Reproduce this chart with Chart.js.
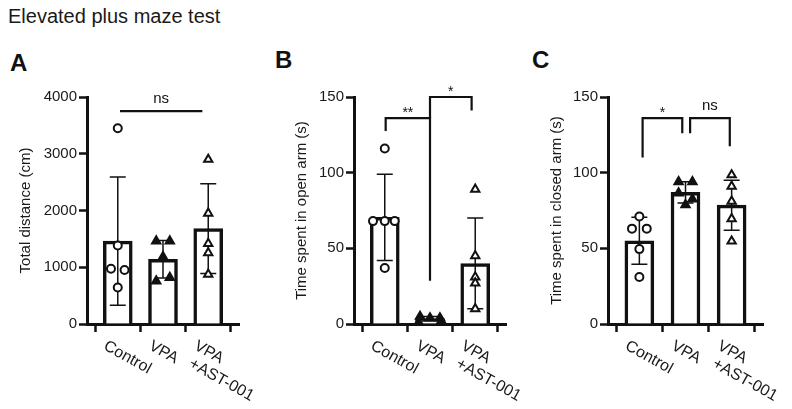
<!DOCTYPE html>
<html><head><meta charset="utf-8">
<script src="https://cdn.jsdelivr.net/npm/chart.js@4.4.1/dist/chart.umd.min.js"></script>
<style>
html,body{margin:0;padding:0;background:#fff;width:792px;height:409px;overflow:hidden;font-family:'Liberation Sans',Arial,sans-serif;}
#title{position:absolute;left:8px;top:6px;font-size:20px;line-height:20px;color:#1a1a1a;white-space:nowrap;}
.lab{position:absolute;font-weight:bold;font-size:24px;line-height:24px;color:#111;}
canvas{position:absolute;left:0;top:0;}
</style></head><body>
<div id="title">Elevated plus maze test</div>
<div class="lab" style="left:10px;top:51px">A</div>
<div class="lab" style="left:275px;top:48px">B</div>
<div class="lab" style="left:532px;top:48px">C</div>
<canvas id="cA" width="792" height="409"></canvas>
<canvas id="cB" width="792" height="409"></canvas>
<canvas id="cC" width="792" height="409"></canvas>
<script>
// ---------- data ----------
const groups = ['Control', 'VPA', 'VPA +AST-001'];
const groupLabelLines = [['Control'], ['VPA'], ['VPA', '+AST-001']];

// A: total distance (cm)
const distMean = [1460, 1140, 1680];
const distSD = [1130, 330, 790];
const distControl = [3450, 1383, 975, 951, 642];
const distVPA = [1460, 1460, 1185, 818, 758];
const distAST = [2900, 1950, 1418, 1255, 876];
const distTicks = [0, 1000, 2000, 3000, 4000];

// B: time spent in open arm (s)
const openMean = [70.5, 3.5, 40];
const openSD = [28.5, 1.5, 30];
const openControl = [116, 68, 68, 68, 37];
const openVPA = [5, 4, 4, 2, 1];
const openAST = [89, 45, 31, 27, 10];
const openTicks = [0, 50, 100, 150];

// C: time spent in closed arm (s)
const closedMean = [55, 87, 78.5];
const closedSD = [15.5, 7, 16.5];
const closedControl = [71, 63, 63, 49.5, 31];
const closedVPA = [94, 94, 86.5, 82.6, 78.8];
const closedAST = [98.5, 91, 81, 69.5, 54.7];
const closedTicks = [0, 50, 100, 150];

// horizontal spread of overlapping dots (in group units)
const spreadA = [[0, 0, -0.15, 0.15, 0], [-0.15, 0.15, 0, 0.15, -0.15], [0, 0, 0, 0, 0]];
const spreadB = [[0, -0.26, 0, 0.22, 0], [-0.22, 0.22, 0, 0.25, -0.25], [0, 0, 0, 0, 0]];
const spreadC = [[0, -0.16, 0.16, 0, 0], [-0.15, 0.15, -0.15, 0.15, 0], [0, 0, 0, 0, 0]];

// significance: [fromGroup, toGroup, topValue, leftLegEnd, rightLegEnd, label]
const sigA = [[0.05, 1.87, 3750, 3750, 3750, 'ns']];
const sigB = [[0.02, 1.0, 136, 127.5, 28.5, '**'], [1.0, 1.92, 150, 136, 141, '*']];
const sigC = [[0.07, 0.93, 136, 110, 126, '*'], [1.1, 1.96, 136, 126, 117.5, 'ns']];

// ---------- drawing ----------
const FONT = "'Liberation Sans', Arial, sans-serif";
const INK = '#111';

function scatterSet(values, g, spread, style, fill) {
  return {
    type: 'scatter', order: 1,
    data: values.map((v, i) => ({x: g + spread[g][i], y: v})),
    pointStyle: style, pointRadius: style === 'circle' ? 4 : 4.8,
    pointBackgroundColor: fill, pointBorderColor: INK, pointBorderWidth: 2,
    pointHoverRadius: 4
  };
}

function makePanel(id, cfg) {
  const errPlugin = {
    id: 'err',
    afterDatasetDraw(chart, args) {
      if (args.index !== 0) return;
      const {x, y} = chart.scales;
      const ctx = chart.ctx;
      ctx.save();
      ctx.strokeStyle = INK; ctx.lineWidth = 1.5;
      cfg.mean.forEach((m, i) => {
        const px = x.getPixelForValue(i);
        const yt = y.getPixelForValue(m + cfg.sd[i]);
        const yb = y.getPixelForValue(m - cfg.sd[i]);
        ctx.beginPath();
        ctx.moveTo(px, yt); ctx.lineTo(px, yb);
        ctx.moveTo(px - 8, yt); ctx.lineTo(px + 8, yt);
        ctx.moveTo(px - 8, yb); ctx.lineTo(px + 8, yb);
        ctx.stroke();
      });
      ctx.restore();
    }
  };
  const annoPlugin = {
    id: 'anno',
    afterDraw(chart) {
      const {x, y} = chart.scales;
      const ctx = chart.ctx;
      ctx.save();
      // significance brackets
      ctx.strokeStyle = INK; ctx.fillStyle = INK; ctx.lineWidth = 2.2;
      ctx.lineJoin = 'miter';
      cfg.sig.forEach(b => {
        const x1 = x.getPixelForValue(b[0]), x2 = x.getPixelForValue(b[1]);
        const yt = y.getPixelForValue(b[2]);
        ctx.beginPath();
        ctx.moveTo(x1, y.getPixelForValue(b[3]));
        ctx.lineTo(x1, yt); ctx.lineTo(x2, yt);
        ctx.lineTo(x2, y.getPixelForValue(b[4]));
        ctx.stroke();
        ctx.textAlign = 'center'; ctx.textBaseline = 'alphabetic';
        if (b[5] === 'ns') {
          ctx.font = '15px ' + FONT;
          ctx.fillText(b[5], (x1 + x2) / 2, yt - 8);
        } else {
          ctx.font = '14px ' + FONT;
          ctx.fillText(b[5], (x1 + x2) / 2, yt - 1);
        }
      });
      // rotated category labels
      ctx.font = '16px ' + FONT;
      ctx.fillStyle = '#1a1a1a';
      ctx.textAlign = 'left'; ctx.textBaseline = 'top';
      groupLabelLines.forEach((lines, i) => {
        const px = x.getPixelForValue(i);
        ctx.save();
        ctx.translate(px - 9, x.bottom + 4);
        ctx.rotate(29 * Math.PI / 180);
        lines.forEach((t, j) => ctx.fillText(t, j ? 4 : 0, j * 18));
        ctx.restore();
      });
      ctx.restore();
    }
  };

  return new Chart(document.getElementById(id), {
    type: 'bar',
    data: {
      datasets: [
        {
          type: 'bar', order: 2,
          data: cfg.mean.map((m, i) => ({x: i, y: m})),
          backgroundColor: '#fff', borderColor: INK, borderWidth: 3.5,
          borderSkipped: 'start', barThickness: 29
        },
        scatterSet(cfg.pts[0], 0, cfg.spread, 'circle', '#fff'),
        scatterSet(cfg.pts[1], 1, cfg.spread, 'triangle', INK),
        scatterSet(cfg.pts[2], 2, cfg.spread, 'triangle', '#fff')
      ]
    },
    options: {
      responsive: false, animation: false, events: [],
      layout: {padding: cfg.pad},
      plugins: {legend: {display: false}, tooltip: {enabled: false}},
      scales: {
        x: {
          type: 'linear', min: -0.68, max: 2.68, offset: false,
          afterBuildTicks: s => { s.ticks = groups.map((g, i) => ({value: i})); },
          afterFit: s => { s.height = 10; },
          border: {display: true, color: INK, width: 3},
          grid: {display: true, drawOnChartArea: false, drawTicks: true, tickLength: 8, tickWidth: 2.5, tickColor: INK, color: INK},
          ticks: {display: false}
        },
        y: {
          type: 'linear', min: cfg.ticks[0], max: cfg.ticks[cfg.ticks.length - 1],
          afterBuildTicks: s => { s.ticks = cfg.ticks.map(v => ({value: v})); },
          afterFit: s => { s.width = cfg.yw; },
          border: {display: true, color: INK, width: 3},
          grid: {display: true, drawOnChartArea: false, drawTicks: true, tickLength: 8, tickWidth: 2.5, tickColor: INK, color: INK},
          ticks: {font: {family: FONT, size: 15}, color: '#1a1a1a', padding: 2, callback: v => String(v)},
          title: {display: true, text: cfg.title, font: {family: FONT, size: 15}, color: '#1a1a1a', padding: {top: 4, bottom: 4}}
        }
      }
    },
    plugins: [errPlugin, annoPlugin]
  });
}

makePanel('cA', {
  mean: distMean, sd: distSD, pts: [distControl, distVPA, distAST], spread: spreadA,
  ticks: distTicks, sig: sigA, title: 'Total distance (cm)', yw: 74,
  pad: {left: 13, right: 553, top: 97, bottom: 75}
});
makePanel('cB', {
  mean: openMean, sd: openSD, pts: [openControl, openVPA, openAST], spread: spreadB,
  ticks: openTicks, sig: sigB, title: 'Time spent in open arm (s)', yw: 65,
  pad: {left: 289, right: 286, top: 97, bottom: 75}
});
makePanel('cC', {
  mean: closedMean, sd: closedSD, pts: [closedControl, closedVPA, closedAST], spread: spreadC,
  ticks: closedTicks, sig: sigC, title: 'Time spent in closed arm (s)', yw: 64,
  pad: {left: 544, right: 29, top: 97, bottom: 75}
});
</script>
</body></html>
